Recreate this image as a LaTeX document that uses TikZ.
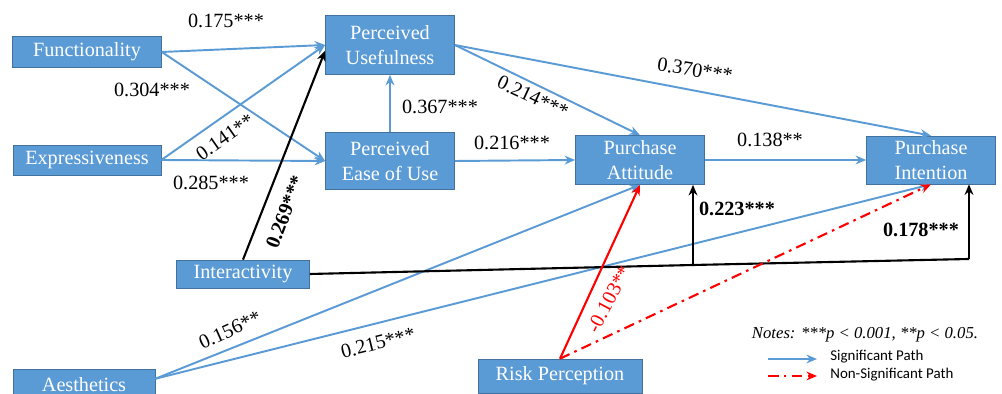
\documentclass[tikz,border=0pt]{standalone}
\usepackage{fontspec}
\setmainfont{Liberation Serif}
\newfontfamily\legendfont{Carlito}
\usetikzlibrary{arrows.meta}
\definecolor{boxblue}{HTML}{5B9BD5}
\definecolor{boxedge}{HTML}{41719C}
\tikzset{
  construct/.style={draw=boxedge,fill=boxblue,text=white,inner sep=0pt,align=center,
    font=\rmfamily\fontsize{11.5}{14}\selectfont},
  sigpath/.style={draw=boxblue,line width=1.1pt,-{Stealth[length=6pt,width=5pt]}},
  blkpath/.style={draw=black,line width=1.2pt},
  nonsig/.style={draw=red,line width=1.2pt,dash pattern=on 6pt off 3pt on 1.5pt off 3pt,
    -{Stealth[length=6pt,width=5pt]}},
  coef/.style={font=\rmfamily\fontsize{11.5}{13}\selectfont,inner sep=1pt},
  boldcoef/.style={font=\rmfamily\bfseries\fontsize{11.5}{13}\selectfont,inner sep=1pt},
}
\begin{document}
\begin{tikzpicture}[x=0.02cm,y=-0.02cm]
      \useasboundingbox (0,0) rectangle (1002,394);
      \node[construct,minimum width=2.98cm,minimum height=0.62cm](fun) at(87,52) {Functionality};
      \node[construct,minimum width=2.96cm,minimum height=0.60cm](exp) at(87,160) {Expressiveness};
      \node[construct,minimum width=2.58cm,minimum height=1.18cm](pu) at(390,45) {Perceived\\Usefulness};
      \node[construct,minimum width=2.58cm,minimum height=1.14cm](peou) at(390,161) {Perceived\\Ease of Use};
      \node[construct,minimum width=2.58cm,minimum height=0.98cm](pa) at(640,160) {Purchase\\Attitude};
      \node[construct,minimum width=2.58cm,minimum height=0.96cm](pi) at(931,160) {Purchase\\Intention};
      \node[construct,minimum width=2.66cm,minimum height=0.56cm](int) at(243,274) {Interactivity};
      \node[construct,minimum width=2.84cm,minimum height=0.64cm](aes) at(84,385) {Aesthetics};
      \node[construct,minimum width=3.28cm,minimum height=0.68cm](rp) at(560,376) {Risk Perception};

      % significant paths
      \foreach \x/\y in{fun.east/pu.west, fun.east/peou.west, exp.east/pu.west,
        exp.east/peou.west, peou.north/pu.south, pu.east/pa.north, pu.east/pi.north,
        peou.east/pa.west, pa.east/pi.west, aes.5/pa.south, aes.5/pi.south%
      }{
        \draw[sigpath](\x)--(\y);
      }

      % interactivity
      \coordinate (j1) at(693,265);
      \coordinate (j2) at(969,259);
      \draw[blkpath,-{Stealth[length=6pt,width=5pt]}](int.north)--(pu.185);
      \draw[blkpath](int.east)--(j1)--(j2);
      \draw[blkpath,-{Stealth[length=6pt,width=5pt]}](j1)--(j1 |- pa.south);
      \draw[blkpath,-{Stealth[length=6pt,width=5pt]}](j2)--(j2 |- pi.south);

      % risk perception
      \draw[red,line width=1.2pt,-{Stealth[length=6pt,width=5pt]}](rp.north)--(pa.south);
      \draw[nonsig](rp.north)--(pi.south);

      % coefficients
      \node[coef](c1) at(226,21) {0.175***};
      \node[coef](c2) at(152,90) {0.304***};
      \node[coef,rotate=35](c3) at(225,137) {0.141**};
      \node[coef](c4) at(211,183) {0.285***};
      \node[boldcoef,rotate=69](c5) at(285,212) {0.269***};
      \node[coef](c6) at(440,107) {0.367***};
      \node[coef,rotate=-25](c7) at(533,97) {0.214***};
      \node[coef,rotate=-9](c8) at(695,70) {0.370***};
      \node[coef](c9) at(512,143) {0.216***};
      \node[coef](c10) at(770,140) {0.138**};
      \node[boldcoef](c11) at(737,209) {0.223***};
      \node[boldcoef](c12) at(921,230) {0.178***};
      \node[coef,rotate=24](c13) at(230,330) {0.156**};
      \node[coef,rotate=14](c14) at(378,343) {0.215***};
      \node[coef,rotate=62,text=red](c15) at(609,299) {-0.103**};

      % legend
      \node[font=\rmfamily\itshape\fontsize{9.5}{11}\selectfont](notes) at(865,335) {Notes: ***p < 0.001, **p < 0.05.};
      \coordinate (s1) at(768,359);
      \coordinate (s2) at(817,359);
      \coordinate (n1) at(768,376);
      \coordinate (n2) at(817,376);
      \draw[sigpath,line width=0.8pt](s1)--(s2);
      \draw[nonsig,line width=0.9pt](n1)--(n2);
      \node[anchor=west,font=\legendfont\fontsize{8.5}{10}\selectfont,inner sep=0pt](sig) at(830,357) {Significant Path};
      \node[anchor=west,font=\legendfont\fontsize{8.5}{10}\selectfont,inner sep=0pt](nsig) at(830,375) {Non-Significant Path};
\end{tikzpicture}
\end{document}
